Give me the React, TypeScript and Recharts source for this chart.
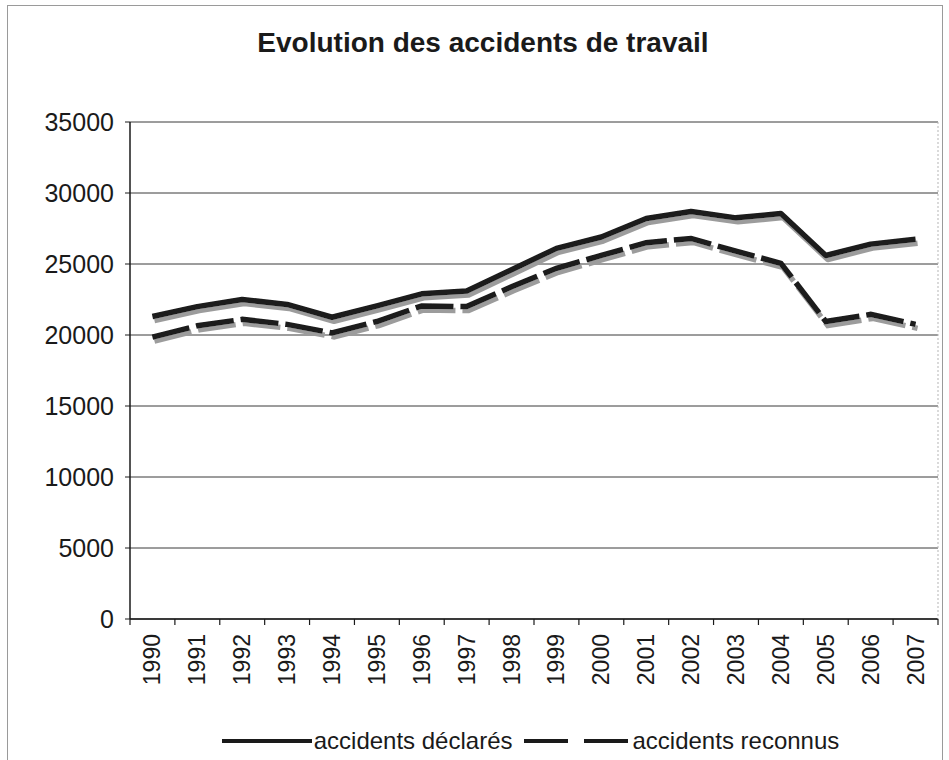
import { CartesianGrid, Legend, Line, LineChart, XAxis, YAxis } from 'recharts';

const years = ['1990', '1991', '1992', '1993', '1994', '1995', '1996', '1997', '1998', '1999', '2000', '2001', '2002', '2003', '2004', '2005', '2006', '2007'];
const declares = [21300, 22000, 22500, 22150, 21250, 22050, 22900, 23100, 24600, 26100, 26900, 28200, 28700, 28250, 28550, 25600, 26400, 26750];
const reconnus = [19850, 20650, 21100, 20750, 20150, 20950, 22050, 22000, 23400, 24700, 25600, 26500, 26800, 25900, 25050, 20950, 21450, 20750];
const yTicks = [0, 5000, 10000, 15000, 20000, 25000, 30000, 35000];

const rows = years.map((y, i) => ({ year: y, declares: declares[i], reconnus: reconnus[i] }));

const FONT = '"Liberation Sans", Arial, sans-serif';
const INK = '#1a1a1a';
const LABEL_GAP = 15;

/** Rotated year label, plus the little tick marks sitting between categories. */
function YearTick(props: any) {
  const { x, y, payload, index, width, visibleTicksCount } = props;
  const half = width / visibleTicksCount / 2;
  const y0 = y - LABEL_GAP;
  return (
    <g>
      <line x1={x - half} y1={y0} x2={x - half} y2={y0 + 6} stroke={INK} strokeWidth={1.2} />
      {index === visibleTicksCount - 1 ? (
        <line x1={x + half} y1={y0} x2={x + half} y2={y0 + 6} stroke={INK} strokeWidth={1.2} />
      ) : null}
      <text
        x={x}
        y={y}
        transform={`rotate(-90, ${x}, ${y})`}
        textAnchor="end"
        dominantBaseline="central"
        fill={INK}
        fontSize={23}
        fontFamily={FONT}
      >
        {payload.value}
      </text>
    </g>
  );
}

function ChartLegend() {
  return (
    <div
      style={{
        height: 38,
        display: 'flex',
        alignItems: 'center',
        justifyContent: 'center',
        fontFamily: FONT,
        fontSize: 24,
        color: INK,
        paddingLeft: 120,
      }}
    >
      <svg width={94} height={10}>
        <line x1={2} y1={5} x2={92} y2={5} stroke={INK} strokeWidth={4} />
      </svg>
      <span>accidents déclarés</span>
      <svg width={110} height={10} style={{ marginLeft: 10 }}>
        <line x1={2} y1={5} x2={108} y2={5} stroke={INK} strokeWidth={4} strokeDasharray="44 16" />
      </svg>
      <span>accidents reconnus</span>
    </div>
  );
}

export default function App() {
  return (
    <div style={{ position: 'absolute', left: 0, top: 0, width: 949, height: 760, background: '#fff', overflow: 'hidden' }}>
      <div
        style={{
          position: 'absolute',
          left: 7,
          top: 5,
          width: 936,
          height: 800,
          border: '1.5px solid #9a9a9a',
          boxSizing: 'border-box',
        }}
      />
      <div
        style={{
          position: 'absolute',
          left: 0,
          top: 27,
          width: 966,
          textAlign: 'center',
          fontFamily: FONT,
          fontWeight: 'bold',
          fontSize: 28,
          color: INK,
        }}
      >
        Evolution des accidents de travail
      </div>
      <LineChart
        width={949}
        height={760}
        data={rows}
        margin={{ top: 122, right: 10, left: 0, bottom: 0 }}
        style={{ position: 'absolute', left: 0, top: 0 }}
      >
        <defs>
          <filter id="lineShadow" filterUnits="userSpaceOnUse" x={0} y={0} width={949} height={760}>
            <feDropShadow dx={2} dy={4} stdDeviation={0.7} floodColor="#9c9c9c" floodOpacity={1} />
          </filter>
        </defs>
        <CartesianGrid vertical={false} stroke="#3a3a3a" strokeWidth={1} />
        <XAxis
          dataKey="year"
          scale="band"
          tick={<YearTick />}
          tickLine={false}
          tickSize={0}
          tickMargin={LABEL_GAP}
          interval={0}
          axisLine={{ stroke: INK, strokeWidth: 1.5 }}
          height={103}
        />
        <YAxis
          domain={[0, 35000]}
          ticks={yTicks}
          interval={0}
          width={130}
          tickSize={5}
          tickMargin={11}
          axisLine={{ stroke: INK, strokeWidth: 1.5 }}
          tickLine={{ stroke: INK }}
          tick={{ fill: INK, fontSize: 25, fontFamily: FONT }}
        />
        <YAxis
          yAxisId="frame"
          orientation="right"
          width={1}
          tick={false}
          tickLine={false}
          axisLine={{ stroke: '#b5b5b5', strokeDasharray: '2 2' }}
        />
        <Legend verticalAlign="bottom" content={<ChartLegend />} />
        <Line
          dataKey="reconnus"
          name="accidents reconnus"
          stroke={INK}
          strokeWidth={5.5}
          strokeDasharray="38 7"
          dot={false}
          filter="url(#lineShadow)"
          isAnimationActive={false}
        />
        <Line
          dataKey="declares"
          name="accidents déclarés"
          stroke={INK}
          strokeWidth={5.5}
          strokeLinejoin="round"
          dot={false}
          filter="url(#lineShadow)"
          isAnimationActive={false}
        />
      </LineChart>
    </div>
  );
}
